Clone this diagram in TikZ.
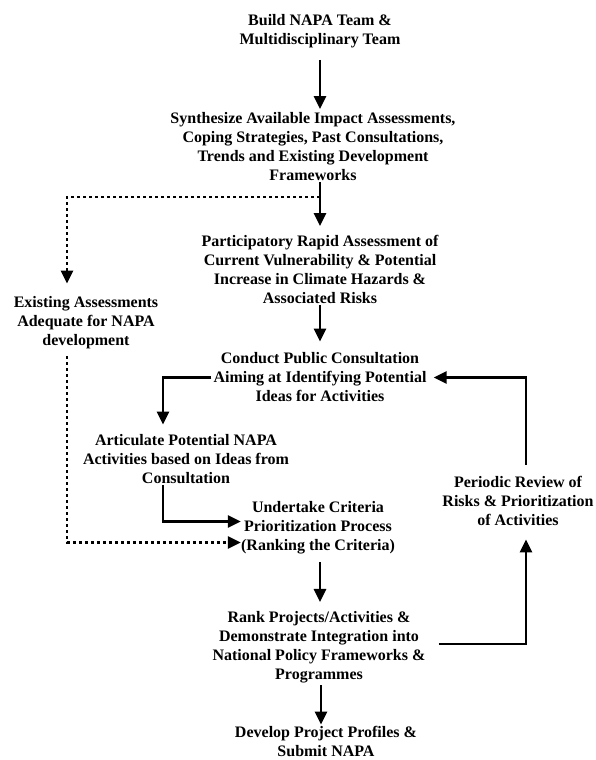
\documentclass[tikz,border=0pt]{standalone}
\usepackage{fontspec}
\setmainfont{Liberation Serif}
\usetikzlibrary{arrows.meta}
\tikzset{
  box/.style={align=center, inner sep=0pt, font=\fontsize{16}{19}\selectfont\bfseries},
  flow/.style={-{Triangle[width=12pt,length=13pt]}, line width=2.6pt},
  dotflow/.style={flow, dash pattern=on 2.6pt off 3.4pt}
}
\begin{document}
\begin{tikzpicture}[x=1pt,y=-1pt]
\useasboundingbox (0,0) rectangle (595,760);
\node[box] (team) at (320,31) {Build NAPA Team \&\\Multidisciplinary Team};
\node[box] (synth) at (313,146.5) {Synthesize Available Impact Assessments,\\Coping Strategies, Past Consultations,\\Trends and Existing Development\\Frameworks};
\node[box] (rapid) at (320,269.5) {Participatory Rapid Assessment of\\Current Vulnerability \& Potential\\Increase in Climate Hazards \&\\Associated Risks};
\node[box] (consult) at (320,377.5) {Conduct Public Consultation\\Aiming at Identifying Potential\\Ideas for Activities};
\node[box] (exist) at (86,323) {Existing Assessments\\Adequate for NAPA\\development};
\node[box] (artic) at (186,459.5) {Articulate Potential NAPA\\Activities based on Ideas from\\Consultation};
\node[box] (crit) at (318,527.5) {Undertake Criteria\\Prioritization Process\\(Ranking the Criteria)};
\node[box] (review) at (518,500.5) {Periodic Review of\\Risks \& Prioritization\\of Activities};
\node[box] (rank) at (319,647) {Rank Projects/Activities \&\\Demonstrate Integration into\\National Policy Frameworks \&\\Programmes};
\node[box] (submit) at (326,741) {Develop Project Profiles \&\\Submit NAPA};
\coordinate (split) at (320,197);

\draw[flow, shorten <=12pt, shorten >=3pt] (team.south) -- (team.south |- synth.north);
\draw[flow, shorten <=1pt, shorten >=9pt] (rapid.north |- synth.south) -- (rapid.north);
\draw[dotflow] (split) -| ([xshift=-19pt,yshift=13pt]exist.north);
\draw[flow, shorten <=1pt, shorten >=11pt] (rapid.south) -- (rapid.south |- consult.north);
\draw[flow, shorten <=2pt, shorten >=10pt] (consult.west) -| ([xshift=-23pt]artic.north);
\draw[flow, shorten <=1pt] ([xshift=-23pt]artic.south) |- ([yshift=6pt]crit.west);
\draw[dotflow, shorten <=7pt] ([xshift=-19pt]exist.south) |- ([yshift=-15pt]crit.west);
\draw[flow, shorten <=8pt, shorten >=9pt] ([xshift=2pt]crit.south) -- ([xshift=2pt]crit.south |- rank.north);
\draw[flow, shorten <=2pt, shorten >=1pt] ([xshift=2pt]rank.south) -- ([xshift=2pt]rank.south |- submit.north);
\draw[flow, shorten <=13pt, shorten >=14pt] ([yshift=3pt]rank.east) -| ([xshift=8pt]review.south);
\draw[flow, shorten <=11pt, shorten >=7pt] ([xshift=8pt]review.north) |- (consult.east);
\end{tikzpicture}
\end{document}
